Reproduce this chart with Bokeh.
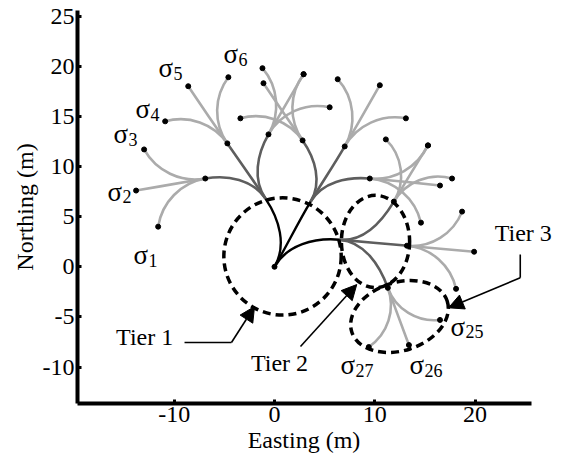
import math
from bokeh.plotting import figure
from bokeh.models import Range1d, FixedTicker, Label, Arrow, NormalHead
from bokeh.core.properties import value
from bokeh.embed import file_html
from bokeh.resources import INLINE

# ---- tree data (metres) ----
# internal nodes: root (tier 0), tier-1 nodes, tier-2 nodes
node_x = [0.0, -0.9, 3.6, 6.5, -6.9, -4.7, -0.6, 2.8, 7.0, 9.5, 11.9, 13.2, 11.3]
node_y = [0.0, 6.8, 6.5, 2.7, 8.8, 12.3, 13.2, 12.6, 12.0, 8.8, 6.5, 2.1, -2.1]
node_heading = [60, 124, 59, -5, 190, 125, 60, 125, 60, -5, 59, -5, -70]
node_parent = [-1, 0, 0, 0, 1, 1, 1, 2, 2, 2, 3, 3, 3]
node_tier = [0, 1, 1, 1, 2, 2, 2, 2, 2, 2, 2, 2, 2]

# leaves (tier 3)
leaf_x = [-11.6, -13.8, -13.0, -10.9, -8.6, -4.6, -1.2, 2.9, 5.5,
          -3.4, -1.1, 2.9, 6.3, 10.5, 13.1, 15.3, 16.5, 14.6,
          11.1, 15.3, 17.7, 18.7, 19.9, 18.1, 16.5, 13.4, 9.4]
leaf_y = [4.0, 7.6, 11.7, 14.5, 18.0, 18.9, 19.8, 19.2, 15.9,
          14.8, 18.3, 19.2, 18.7, 18.1, 14.8, 12.1, 8.1, 4.4,
          12.7, 12.1, 8.8, 5.5, 1.5, -2.2, -5.3, -7.8, -8.0]
leaf_parent = [4, 4, 4, 5, 5, 5, 6, 6, 6, 7, 7, 7, 8, 8, 8, 9, 9, 9,
               10, 10, 10, 11, 11, 11, 12, 12, 12]

# tier ellipses
ell_x = [0.8, 10.07, 12.46]
ell_y = [1.03, 2.52, -4.96]
ell_w = [11.7, 6.8, 10.0]
ell_h = [11.7, 9.2, 6.8]
ell_angle = [0, 0, 18]

# sigma labels
sig_sub = ["1", "2", "3", "4", "5", "6", "25", "26", "27"]
sig_x = [-14.06, -16.65, -16.05, -13.86, -11.57, -5.08, 17.55, 13.46, 6.58]
sig_y = [1.15, 7.5, 13.2, 15.7, 19.8, 21.2, -6.0, -9.8, -9.8]

# callouts
tier_text = ["Tier 1", "Tier 2", "Tier 3"]
tier_tx = [-10.1, 0.5, 24.8]
tier_ty = [-7.05, -9.6, 3.4]
tier_align = ["right", "center", "center"]
call_x = [[-8.97, -4.29, -1.99], [2.59, 8.2], [24.5, 24.5, 17.35]]
call_y = [[-7.55, -7.55, -3.96], [-7.95, -1.77], [1.23, -1.1, -4.09]]

x_ticks = [-10, 0, 10, 20]
y_ticks = [-10, -5, 0, 5, 10, 15, 20, 25]
x_axis_extent = (-19.64, 25.62)
x_title = "Easting (m)"
y_title = "Northing (m)"

FONT = "Liberation Serif"


def wrap(a):
    return (a + 180.0) % 360.0 - 180.0


def bez(x0, y0, h0, x1, y1, h1=None):
    dx, dy = x1 - x0, y1 - y0
    chord = math.hypot(dx, dy)
    ca = math.degrees(math.atan2(dy, dx))
    if h1 is None:
        h1 = h0 + 2 * wrap(ca - h0)
    th = math.radians(wrap(h1 - h0))
    d = chord / (3 * math.cos(th / 4) ** 2)
    r0, r1 = math.radians(h0), math.radians(h1)
    return (x0, y0, x1, y1, x0 + d * math.cos(r0), y0 + d * math.sin(r0),
            x1 - d * math.cos(r1), y1 - d * math.sin(r1))


p = figure(width=566, height=458, output_backend="svg", toolbar_location=None,
           x_range=Range1d(-19.64, 29.11), y_range=Range1d(-13.63, 25.55),
           min_border_left=77, min_border_right=0, min_border_top=10,
           min_border_bottom=55)
p.outline_line_color = None
p.xgrid.visible = False
p.ygrid.visible = False
p.background_fill_color = "white"

edges = {1: [], 2: [], 3: []}
for i in range(len(node_x)):
    par = node_parent[i]
    if par < 0:
        continue
    edges[node_tier[i]].append(bez(node_x[par], node_y[par], node_heading[par],
                                   node_x[i], node_y[i], node_heading[i]))
for j in range(len(leaf_x)):
    par = leaf_parent[j]
    edges[3].append(bez(node_x[par], node_y[par], node_heading[par], leaf_x[j], leaf_y[j]))

style = {3: ("#ababab", 2.6), 2: ("#5e5e5e", 2.6), 1: ("#000000", 2.4)}
for t in (3, 2, 1):
    e = edges[t]
    cols = list(zip(*e))
    p.bezier(x0=list(cols[0]), y0=list(cols[1]), x1=list(cols[2]), y1=list(cols[3]),
             cx0=list(cols[4]), cy0=list(cols[5]), cx1=list(cols[6]), cy1=list(cols[7]),
             line_color=style[t][0], line_width=style[t][1])

p.ellipse(x=ell_x, y=ell_y, width=ell_w, height=ell_h,
          angle=[math.radians(a) for a in ell_angle],
          fill_color=None, line_color="black", line_width=3.5, line_dash="8 5")

dot_x = [node_x[i] for i in range(len(node_x)) if node_tier[i] != 1] + leaf_x
dot_y = [node_y[i] for i in range(len(node_y)) if node_tier[i] != 1] + leaf_y
p.scatter(dot_x, dot_y, size=5, color="black")

# sigma labels
p.text(x=sig_x, y=sig_y, text=["σ"] * len(sig_x), text_font=value(FONT),
       text_font_size="27px", text_baseline="alphabetic", text_align="left",
       text_color="black")
p.text(x=sig_x, y=sig_y, text=sig_sub, text_font=value(FONT),
       text_font_size="18px", text_baseline="alphabetic", text_align="left",
       x_offset=15, y_offset=5, text_color="black")

# callouts
for k in range(3):
    xs, ys = call_x[k], call_y[k]
    if len(xs) > 2:
        p.line(xs[:-1], ys[:-1], line_color="black", line_width=1.6)
    p.add_layout(Arrow(end=NormalHead(size=15, fill_color="black", line_color="black"),
                       x_start=xs[-2], y_start=ys[-2], x_end=xs[-1], y_end=ys[-1],
                       line_color="black", line_width=1.6))
    p.add_layout(Label(x=tier_tx[k], y=tier_ty[k], text=tier_text[k],
                       text_font=FONT, text_font_size="24px",
                       text_align=tier_align[k], text_baseline="alphabetic",
                       text_color="black"))

# the frame runs past the end of the x axis (room for "Tier 3"); pad the
# title so that it stays centred under the drawn axis line
x_title_padded = x_title + "\u00a0" * 6

for ax, ticks, lab in ((p.xaxis[0], x_ticks, x_title_padded), (p.yaxis[0], y_ticks, y_title)):
    ax.ticker = FixedTicker(ticks=ticks)
    ax.major_label_overrides = {t: str(t) for t in ticks}
    ax.axis_line_width = 4
    ax.axis_line_color = "black"
    ax.major_tick_in = 4
    ax.major_tick_out = 0
    ax.major_tick_line_width = 3
    ax.minor_tick_line_color = None
    ax.major_label_text_font = FONT
    ax.major_label_text_font_size = "24px"
    ax.major_label_text_color = "black"
    ax.major_label_standoff = 3
    ax.axis_label = lab
    ax.axis_label_text_font = FONT
    ax.axis_label_text_font_size = "24px"
    ax.axis_label_text_font_style = "normal"
    ax.axis_label_text_color = "black"
    ax.axis_label_standoff = 2
p.xaxis[0].bounds = x_axis_extent

open("out.html", "w").write(file_html(p, INLINE))
